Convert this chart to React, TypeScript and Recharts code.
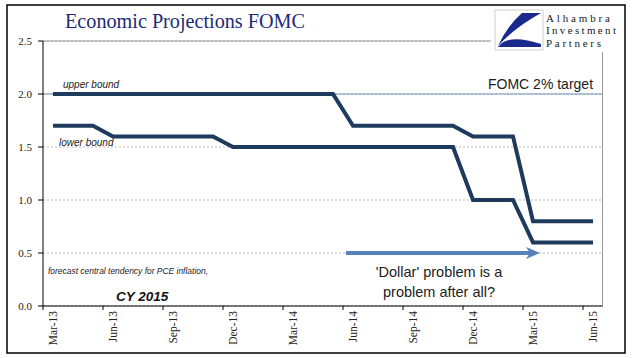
import React from 'react';
import { ComposedChart, Line, XAxis, YAxis, CartesianGrid, ReferenceLine } from 'recharts';

// monthly categories, FOMC projection for 2015 PCE inflation (central tendency)
const months = [
  'Mar-13', 'Apr-13', 'May-13', 'Jun-13', 'Jul-13', 'Aug-13', 'Sep-13', 'Oct-13', 'Nov-13', 'Dec-13',
  'Jan-14', 'Feb-14', 'Mar-14', 'Apr-14', 'May-14', 'Jun-14', 'Jul-14', 'Aug-14', 'Sep-14', 'Oct-14',
  'Nov-14', 'Dec-14', 'Jan-15', 'Feb-15', 'Mar-15', 'Apr-15', 'May-15', 'Jun-15',
];
const upperBound = [
  2.0, 2.0, 2.0, 2.0, 2.0, 2.0, 2.0, 2.0, 2.0, 2.0,
  2.0, 2.0, 2.0, 2.0, 2.0, 1.7, 1.7, 1.7, 1.7, 1.7,
  1.7, 1.6, 1.6, 1.6, 0.8, 0.8, 0.8, 0.8,
];
const lowerBound = [
  1.7, 1.7, 1.7, 1.6, 1.6, 1.6, 1.6, 1.6, 1.6, 1.5,
  1.5, 1.5, 1.5, 1.5, 1.5, 1.5, 1.5, 1.5, 1.5, 1.5,
  1.5, 1.0, 1.0, 1.0, 0.6, 0.6, 0.6, 0.6,
];
const yTicks = [0, 0.5, 1.0, 1.5, 2.0, 2.5];
const fomcTarget = 2.0;
const arrowFrom = 'May-14';
const arrowTo = 'Mar-15';
const arrowLevel = 0.5;

const data = months.map((m, i) => ({ month: m, upper: upperBound[i], lower: lowerBound[i] }));

const NAVY = '#1e3a5c';
const SERIF = '"Liberation Serif", "Times New Roman", serif';
const SANS = '"Liberation Sans", Arial, sans-serif';

// Excel style: tick marks sit between categories, labels at the category centre
const MonthTick = (props: any) => {
  const { x, y, payload } = props;
  return (
    <g>
      <line x1={x - 10} y1={y - 4} x2={x - 10} y2={y} stroke="#000" />
      <text
        x={x}
        y={y + 1}
        transform={`rotate(-90, ${x}, ${y + 1})`}
        textAnchor="end"
        dy="0.35em"
        fontFamily={SERIF}
        fontSize={11.5}
        fill="#222"
      >
        {payload.value}
      </text>
    </g>
  );
};

const ArrowShape = (props: any) => {
  const { x1, y1, x2 } = props;
  const tip = x2 + 7;
  return (
    <g>
      <line x1={x1 + 13} y1={y1} x2={tip - 6} y2={y1} stroke="#5682b9" strokeWidth={4} />
      <polygon points={`${tip - 14},${y1 - 6} ${tip},${y1} ${tip - 14},${y1 + 6} ${tip - 10},${y1}`} fill="#5682b9" />
    </g>
  );
};

export default function App() {
  return (
    <div style={{ position: 'absolute', left: 0, top: 0, width: 641, height: 358, background: '#fff' }}>
      <ComposedChart
        width={641}
        height={358}
        data={data}
        margin={{ top: 41, right: 38, bottom: 5, left: 0 }}
      >
        <CartesianGrid vertical={false} stroke="#b8b8b8" strokeDasharray="2 2" />
        <ReferenceLine y={2.5} stroke="#999" />
        <ReferenceLine y={fomcTarget} stroke="#7393bd" />
        <XAxis
          dataKey="month"
          interval={2}
          padding={{ left: 10, right: 10 }}
          tickLine={false}
          tickSize={4}
          tickMargin={0}
          height={47}
          axisLine={{ stroke: '#000' }}
          tick={MonthTick}
        />
        <YAxis
          domain={[0, 2.5]}
          ticks={yTicks}
          width={43}
          tickSize={5}
          tickMargin={6}
          tickFormatter={(v: number) => v.toFixed(1)}
          axisLine={{ stroke: '#000' }}
          tickLine={{ stroke: '#000' }}
          tick={{ fontFamily: SERIF, fontSize: 11, fill: '#222' }}
        />
        <ReferenceLine
          segment={[{ x: arrowFrom, y: arrowLevel }, { x: arrowTo, y: arrowLevel }]}
          shape={ArrowShape}
        />
        <Line type="linear" dataKey="upper" stroke={NAVY} strokeWidth={4} dot={false} isAnimationActive={false} />
        <Line type="linear" dataKey="lower" stroke={NAVY} strokeWidth={4} dot={false} isAnimationActive={false} />
      </ComposedChart>

      <svg width={641} height={358} style={{ position: 'absolute', left: 0, top: 0, pointerEvents: 'none' }}>
        <rect x={7} y={5} width={618} height={348} fill="none" stroke="#000" strokeWidth={1.5} />
        {/* right edge of the plot frame */}
        <line x1={602.5} y1={41} x2={602.5} y2={306} stroke="#999" />
        <text x={65} y={28} fontFamily={SERIF} fontSize={20} fill="#1c2a78" textLength={240} lengthAdjust="spacingAndGlyphs">
          Economic Projections FOMC
        </text>

        {/* logo */}
        <rect x={491} y={7} width={131} height={45} fill="#fff" />
        <rect x={495} y={10} width={48} height={40} fill="#fff" stroke="#d0d0d0" />
        <path d="M541 13 L522 13 Q507 26 498 46 Q514 28 541 13 Z" fill="#1a2a8c" />
        <path d="M498 47 Q508 33 541 44 L541 47 Z" fill="#1a2a8c" />
        <g fontFamily={SERIF} fontSize={11} fill="#1a1a1a" lengthAdjust="spacingAndGlyphs">
          <text x={546} y={21.5} textLength={64}>Alhambra</text>
          <text x={546} y={34} textLength={70}>Investment</text>
          <text x={546} y={46.5} textLength={55}>Partners</text>
        </g>

        <text x={488} y={89} fontFamily={SANS} fontSize={14} fill="#222">FOMC 2% target</text>
        <text x={63} y={88} fontFamily={SANS} fontStyle="italic" fontSize={10} fill="#222">upper bound</text>
        <text x={59} y={146} fontFamily={SANS} fontStyle="italic" fontSize={10} fill="#222">lower bound</text>
        <text x={48} y={274} fontFamily={SANS} fontStyle="italic" fontSize={9} fill="#222" textLength={160} lengthAdjust="spacingAndGlyphs">
          forecast central tendency for PCE inflation,
        </text>
        <text x={116} y={301} fontFamily={SANS} fontStyle="italic" fontWeight="bold" fontSize={13.5} fill="#111">CY 2015</text>
        <g fontFamily={SANS} fontSize={14.5} fill="#222" textAnchor="middle">
          <text x={439} y={277}>'Dollar' problem is a</text>
          <text x={439} y={297}>problem  after all?</text>
        </g>
      </svg>
    </div>
  );
}
